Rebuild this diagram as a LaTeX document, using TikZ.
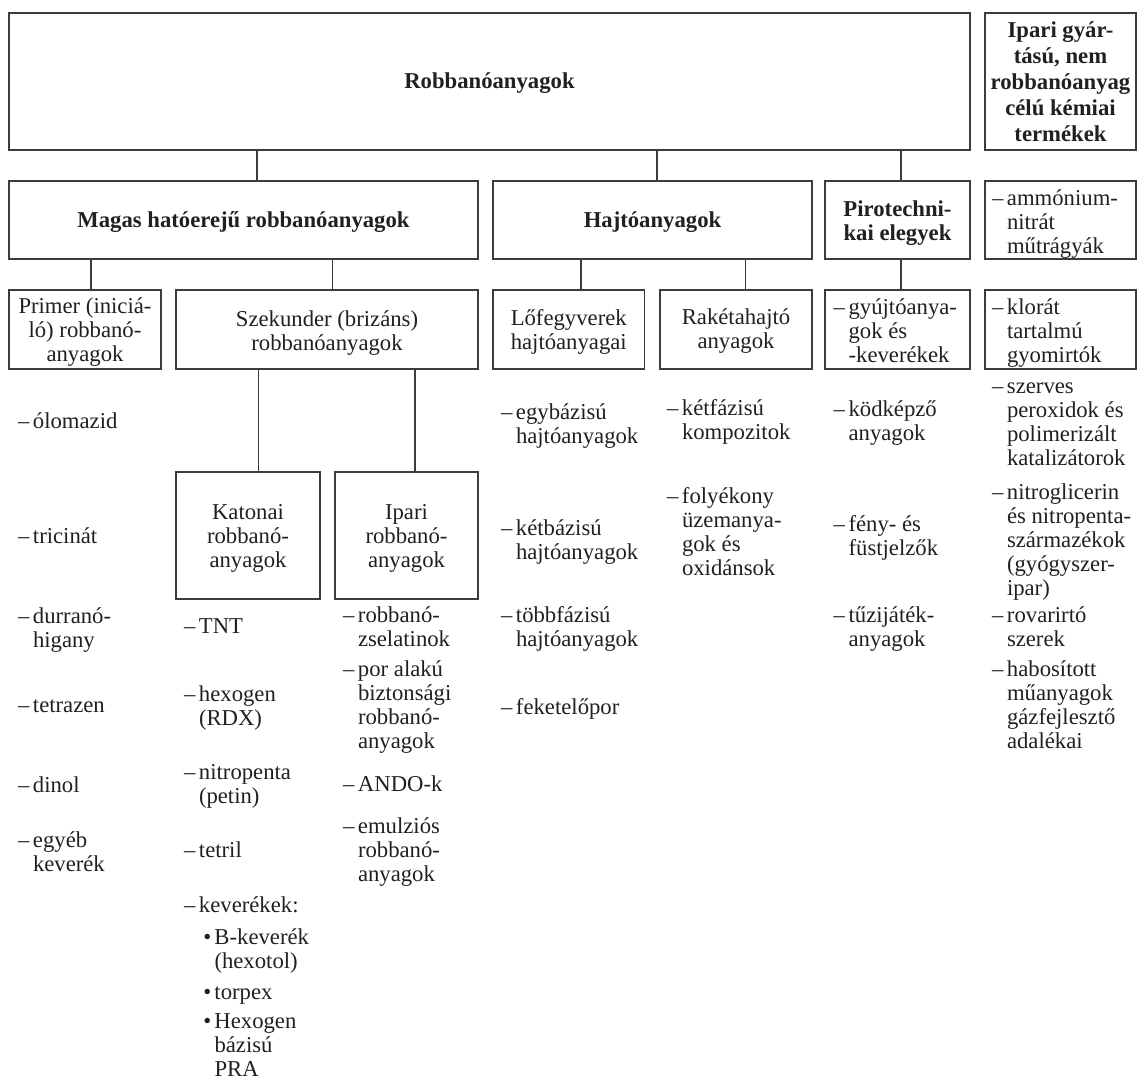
\documentclass[tikz,border=0pt]{standalone}
\usepackage{fontspec}
\setmainfont{Liberation Serif}
\definecolor{ink}{RGB}{35,31,32}
\definecolor{linec}{RGB}{60,60,60}
\newcommand\mlines[2]{\begin{tabular}[t]{@{}#1@{}}#2\end{tabular}}
\newcommand\dsh{\llap{–\hspace{1.8pt}}}
\newcommand\bul{\llap{•\hspace{1.6pt}}}
\begin{document}
\begin{tikzpicture}[x=0.5pt,y=-0.5pt, font=\fontsize{11.35}{12}\selectfont, text=ink,
 box/.style={draw=linec, line width=0.55pt, inner sep=0pt, outer sep=0pt},
 conn/.style={draw=linec, line width=0.55pt},
 lt/.style={inner sep=0pt, outer sep=0pt, anchor=base west},
 ct/.style={inner sep=0pt, outer sep=0pt, anchor=base},
 bt/.style={inner sep=0pt, outer sep=0pt, anchor=base, font=\bfseries\fontsize{11.35}{12}\selectfont},
]
\useasboundingbox (0,0) rectangle (1137,1079);
% boxes
\node[box, minimum width=480.5pt, minimum height=68.5pt] (top) at (489.5,81.5) {};
\node[box, minimum width=75.5pt, minimum height=68.5pt] (ipg) at (1060.5,81.5) {};
\node[box, minimum width=234.5pt, minimum height=39pt] (magas) at (243.5,220) {};
\node[box, minimum width=159.5pt, minimum height=39pt] (hajto) at (652.5,220) {};
\node[box, minimum width=72.5pt, minimum height=39pt] (piro) at (897.5,220) {};
\node[box, minimum width=75.5pt, minimum height=39pt] (ammon) at (1060.5,220) {};
\node[box, minimum width=76pt, minimum height=39.5pt] (primer) at (85,329.5) {};
\node[box, minimum width=151pt, minimum height=39.5pt] (szek) at (327,329.5) {};
\node[box, minimum width=75.75pt, minimum height=39.5pt] (lofegy) at (568.75,329.5) {};
\node[box, minimum width=76pt, minimum height=39.5pt] (raketa) at (736,329.5) {};
\node[box, minimum width=72.5pt, minimum height=39.5pt] (gyujto) at (897.5,329.5) {};
\node[box, minimum width=75.5pt, minimum height=39.5pt] (klorat) at (1060.5,329.5) {};
\node[box, minimum width=72pt, minimum height=63.5pt] (katonai) at (248,535.5) {};
\node[box, minimum width=71.5pt, minimum height=63.5pt] (iparirob) at (406.5,535.5) {};
% connector x positions
\coordinate (cA) at (257,0);
\coordinate (cB) at (657,0);
\coordinate (cC) at (901,0);
\coordinate (cD) at (91,0);
\coordinate (cE) at (332.7,0);
\coordinate (cF) at (581,0);
\coordinate (cG) at (745.7,0);
\coordinate (cH) at (258.3,0);
\coordinate (cI) at (415,0);
\draw[conn] (top.south -| cA) -- (magas.north -| cA);
\draw[conn] (top.south -| cB) -- (hajto.north -| cB);
\draw[conn] (top.south -| cC) -- (piro.north -| cC);
\draw[conn] (magas.south -| cD) -- (primer.north -| cD);
\draw[conn] (magas.south -| cE) -- (szek.north -| cE);
\draw[conn] (hajto.south -| cF) -- (lofegy.north -| cF);
\draw[conn] (hajto.south -| cG) -- (raketa.north -| cG);
\draw[conn] (piro.south -| cC) -- (gyujto.north -| cC);
\draw[conn] (szek.south -| cH) -- (katonai.north -| cH);
\draw[conn] (szek.south -| cI) -- (iparirob.north -| cI);
% box texts
\node[bt] (tTop) at (489.5,89) {Robbanóanyagok};
\node[bt, font=\bfseries\fontsize{11.35}{13}\selectfont] (tIpg) at (1060.5,38) {\mlines{c}{Ipari gyár-\\tású, nem\\robbanóanyag\\célú kémiai\\termékek}};
\node[bt] (tMagas) at (243.5,228) {Magas hatóerejű robbanóanyagok};
\node[bt] (tHajto) at (652.5,228) {Hajtóanyagok};
\node[bt] (tPiro) at (897.5,217) {\mlines{c}{Pirotechni-\\kai elegyek}};
\node[lt] (tAmmon) at (1007,206) {\dsh\mlines{l}{ammónium-\\nitrát\\műtrágyák}};
\node[ct] (tPrimer) at (85,314) {\mlines{c}{Primer (iniciá-\\ló) robbanó-\\anyagok}};
\node[ct] (tSzek) at (327,327) {\mlines{c}{Szekunder (brizáns)\\robbanóanyagok}};
\node[ct] (tLofegy) at (568.75,326) {\mlines{c}{Lőfegyverek\\hajtóanyagai}};
\node[ct] (tRaketa) at (736,325) {\mlines{c}{Rakétahajtó\\anyagok}};
\node[lt] (tGyujto) at (848.6,315) {\dsh\mlines{l}{gyújtóanya-\\gok és\\-keverékek}};
\node[lt] (tKlorat) at (1007,315) {\dsh\mlines{l}{klorát\\tartalmú\\gyomirtók}};
\node[ct] (tKaton) at (248,520) {\mlines{c}{Katonai\\robbanó-\\anyagok}};
\node[ct] (tIparirob) at (406.5,520) {\mlines{c}{Ipari\\robbanó-\\anyagok}};
% primer list
\node[lt] (p1) at (33,429) {\dsh ólomazid};
\node[lt] (p2) at (33,544) {\dsh tricinát};
\node[lt] (p3) at (33,624) {\dsh\mlines{l}{durranó-\\higany}};
\node[lt] (p4) at (33,713) {\dsh tetrazen};
\node[lt] (p5) at (33,793) {\dsh dinol};
\node[lt] (p6) at (33,848) {\dsh\mlines{l}{egyéb\\keverék}};
% katonai list
\node[lt] (k1) at (199,634) {\dsh TNT};
\node[lt] (k2) at (199,702) {\dsh\mlines{l}{hexogen\\(RDX)}};
\node[lt] (k3) at (199,780) {\dsh\mlines{l}{nitropenta\\(petin)}};
\node[lt] (k4) at (199,858) {\dsh tetril};
\node[lt] (k5) at (199,913) {\dsh keverékek:};
\node[lt] (k6) at (214.5,945) {\bul\mlines{l}{B-keverék\\(hexotol)}};
\node[lt] (k7) at (214.5,1000) {\bul torpex};
\node[lt] (k8) at (214.5,1029) {\bul\mlines{l}{Hexogen\\bázisú\\PRA}};
% ipari list
\node[lt] (i1) at (358,623) {\dsh\mlines{l}{robbanó-\\zselatinok}};
\node[lt] (i2) at (358,677) {\dsh\mlines{l}{por alakú\\biztonsági\\robbanó-\\anyagok}};
\node[lt] (i3) at (358,792) {\dsh ANDO-k};
\node[lt] (i4) at (358,834) {\dsh\mlines{l}{emulziós\\robbanó-\\anyagok}};
% lofegyverek list
\node[lt] (l1) at (516,420) {\dsh\mlines{l}{egybázisú\\hajtóanyagok}};
\node[lt] (l2) at (516,536) {\dsh\mlines{l}{kétbázisú\\hajtóanyagok}};
\node[lt] (l3) at (516,623) {\dsh\mlines{l}{többfázisú\\hajtóanyagok}};
\node[lt] (l4) at (516,715) {\dsh feketelőpor};
% raketa list
\node[lt] (r1) at (682,416) {\dsh\mlines{l}{kétfázisú\\kompozitok}};
\node[lt] (r2) at (682,504) {\dsh\mlines{l}{folyékony\\üzemanya-\\gok és\\oxidánsok}};
% piro list
\node[lt] (g1) at (848.6,417) {\dsh\mlines{l}{ködképző\\anyagok}};
\node[lt] (g2) at (848.6,532) {\dsh\mlines{l}{fény- és\\füstjelzők}};
\node[lt] (g3) at (848.6,623) {\dsh\mlines{l}{tűzijáték-\\anyagok}};
% right list
\node[lt] (n1) at (1007,394) {\dsh\mlines{l}{szerves\\peroxidok és\\polimerizált\\katalizátorok}};
\node[lt] (n2) at (1007,500) {\dsh\mlines{l}{nitroglicerin\\és nitropenta-\\származékok\\(gyógyszer-\\ipar)}};
\node[lt] (n3) at (1007,623) {\dsh\mlines{l}{rovarirtó\\szerek}};
\node[lt] (n4) at (1007,677) {\dsh\mlines{l}{habosított\\műanyagok\\gázfejlesztő\\adalékai}};
\end{tikzpicture}
\end{document}
